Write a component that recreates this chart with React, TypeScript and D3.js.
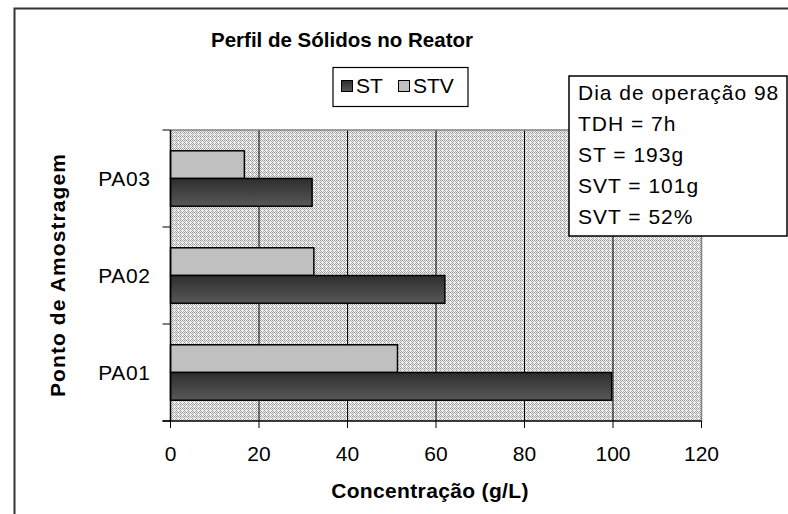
import React from "react";
import * as d3 from "d3";

const categories = ["PA03", "PA02", "PA01"];
const seriesNames = ["STV", "ST"];
const stValues = [32, 62, 99.7];
const stvValues = [16.7, 32.4, 51.3];
const xTicks = [0, 20, 40, 60, 80, 100, 120];
const infoLines = ["Dia de operação 98", "TDH = 7h", "ST = 193g", "SVT = 101g", "SVT = 52%"];

const FONT = "'Liberation Sans', Arial, sans-serif";

const App = () => {
  const width = 788;
  const height = 514;
  const plot = { left: 170.5, right: 701.5, top: 130, bottom: 421 };

  const x = d3.scaleLinear().domain([0, 120]).range([plot.left, plot.right]);
  const y = d3.scaleBand().domain(categories).range([plot.top, plot.bottom]).padding(0);
  const ySub = d3
    .scaleBand()
    .domain(seriesNames)
    .range([0, y.bandwidth()])
    .paddingInner(0)
    .paddingOuter(0.75);

  const rows = categories.map((c, i) => ({ cat: c, ST: stValues[i], STV: stvValues[i] }));
  const yTickPos = [plot.top, ...categories.map((c) => (y(c) as number) + y.bandwidth())];

  return (
    <svg
      width={width}
      height={height}
      style={{ position: "absolute", left: 0, top: 0, background: "#fff" }}
      fontFamily={FONT}
    >
      <defs>
        <pattern id="hatch" width="4" height="4" patternUnits="userSpaceOnUse">
          <rect width="4" height="4" fill="#f2f2f2" />
          <rect x="0" y="0" width="1" height="1" fill="#969696" />
          <rect x="2" y="0" width="1" height="1" fill="#969696" />
          <rect x="1" y="1" width="1" height="1" fill="#b0b0b0" />
          <rect x="3" y="1" width="1" height="1" fill="#b0b0b0" />
          <rect x="0" y="2" width="1" height="1" fill="#969696" />
          <rect x="1" y="3" width="1" height="1" fill="#b0b0b0" />
          <rect x="3" y="3" width="1" height="1" fill="#b0b0b0" />
        </pattern>
        <linearGradient id="darkGrad" x1="0" y1="0" x2="0" y2="1">
          <stop offset="0%" stopColor="#2e2e2e" />
          <stop offset="100%" stopColor="#585858" />
        </linearGradient>
      </defs>

      {/* chart frame */}
      <rect x={14.5} y={8.5} width={800} height={540} fill="#fff" stroke="#333" strokeWidth={2} />

      {/* title */}
      <text x={342} y={47} textAnchor="middle" fontSize={20.5} fontWeight="bold">
        Perfil de Sólidos no Reator
      </text>

      {/* plot area */}
      <rect
        x={plot.left}
        y={plot.top}
        width={plot.right - plot.left}
        height={plot.bottom - plot.top}
        fill="url(#hatch)"
      />
      {xTicks.slice(1, -1).map((t) => (
        <line key={t} x1={x(t)} x2={x(t)} y1={plot.top} y2={plot.bottom} stroke="#000" strokeWidth={1} />
      ))}
      <line x1={plot.left} x2={plot.right} y1={plot.top} y2={plot.top} stroke="#808080" strokeWidth={1.5} />
      <line x1={plot.right} x2={plot.right} y1={plot.top} y2={plot.bottom} stroke="#808080" strokeWidth={1.5} />

      {/* bars */}
      {rows.map((r) => (
        <g key={r.cat} transform={`translate(0, ${y(r.cat)})`}>
          <rect
            x={x(0)}
            y={ySub("STV")}
            width={x(r.STV) - x(0)}
            height={ySub.bandwidth()}
            fill="#c0c0c0"
            stroke="#000"
            strokeWidth={1.5}
          />
          <rect
            x={x(0)}
            y={ySub("ST")}
            width={x(r.ST) - x(0)}
            height={ySub.bandwidth()}
            fill="url(#darkGrad)"
            stroke="#000"
            strokeWidth={1.5}
          />
        </g>
      ))}

      {/* axes */}
      <line x1={plot.left} x2={plot.left} y1={plot.top} y2={plot.bottom} stroke="#000" strokeWidth={1.5} />
      <line x1={plot.left - 8} x2={plot.right} y1={plot.bottom} y2={plot.bottom} stroke="#000" strokeWidth={1.5} />
      {yTickPos.map((p, i) => (
        <line key={i} x1={plot.left - 8} x2={plot.left} y1={p} y2={p} stroke="#000" strokeWidth={1} />
      ))}
      {categories.map((c) => (
        <text
          key={c}
          x={plot.left - 20}
          y={(y(c) as number) + y.bandwidth() / 2 + 7.5}
          textAnchor="end"
          fontSize={21}
          letterSpacing={0.6}
        >
          {c}
        </text>
      ))}
      {xTicks.map((t) => (
        <g key={t}>
          <line x1={x(t)} x2={x(t)} y1={plot.bottom} y2={plot.bottom + 7} stroke="#000" strokeWidth={1} />
          <text x={x(t)} y={461} textAnchor="middle" fontSize={21}>
            {t}
          </text>
        </g>
      ))}

      {/* axis titles */}
      <text x={430} y={498} textAnchor="middle" fontSize={21} letterSpacing={0.35} fontWeight="bold">
        Concentração (g/L)
      </text>
      <text
        transform="translate(65, 275) rotate(-90)"
        textAnchor="middle"
        fontSize={21}
        letterSpacing={1.1}
        fontWeight="bold"
      >
        Ponto de Amostragem
      </text>

      {/* legend */}
      <rect x={333} y={67.5} width={135} height={39} fill="#fff" stroke="#000" strokeWidth={1.2} />
      <rect x={341.5} y={80.5} width={11} height={11} fill="url(#darkGrad)" stroke="#000" strokeWidth={1} />
      <text x={356} y={93} fontSize={21}>ST</text>
      <rect x={398.5} y={80.5} width={11} height={11} fill="#c0c0c0" stroke="#000" strokeWidth={1} />
      <text x={413} y={93} fontSize={21}>STV</text>

      {/* info box */}
      <rect x={569} y={76} width={218} height={160} fill="#fff" stroke="#000" strokeWidth={1.5} />
      {infoLines.map((l, i) => (
        <text key={i} x={578} y={100 + i * 30.9} fontSize={21} letterSpacing={1}>
          {l}
        </text>
      ))}
    </svg>
  );
};

export default App;
